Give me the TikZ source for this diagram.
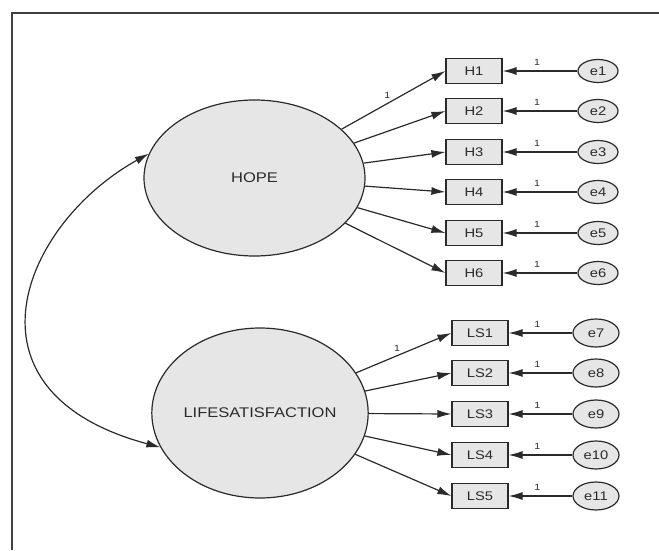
\documentclass[tikz,border=0pt]{standalone}
\usepackage{fontspec}
\setmainfont{Liberation Sans}[FakeStretch=1.18]
\usetikzlibrary{arrows.meta,shapes.geometric}
\definecolor{fillg}{HTML}{E6E6E6}
\definecolor{lineg}{HTML}{2A2A2A}
\tikzset{
  lat/.style={ellipse, draw=lineg, fill=fillg, line width=1.2pt, inner sep=0pt,
    font=\fontsize{14}{16}\selectfont, text=lineg},
  obs/.style={rectangle, draw=lineg, fill=fillg, line width=1.2pt, inner sep=0pt,
    minimum width=56pt, minimum height=25pt, font=\fontsize{12.5}{14}\selectfont, text=lineg},
  errup/.style={ellipse, draw=lineg, fill=fillg, line width=1.2pt, inner sep=0pt,
    minimum width=40pt, minimum height=23pt, font=\fontsize{12.5}{14}\selectfont, text=lineg},
  errlo/.style={errup, minimum width=46pt, minimum height=28pt},
  arr/.style={-{Latex[length=14pt,width=8pt]}, line width=1.2pt, draw=lineg},
  cov/.style={{Latex[length=14pt,width=8pt]}-{Latex[length=14pt,width=8pt]}, line width=1.2pt, draw=lineg},
  one/.style={font=\fontsize{9}{10}\selectfont, inner sep=1pt, text=lineg},
  frameline/.style={line width=1.4pt, draw=black!75}
}
\begin{document}
\begin{tikzpicture}[x=1pt,y=1pt]
\useasboundingbox (0,0) rectangle (659,550);
\draw[frameline] (12,0) -- (12,537) -- (659,537);

\node[lat, minimum width=221pt, minimum height=156pt] (hope) at (254.5,372) {HOPE};
\node[lat, minimum width=216pt, minimum height=170pt] (ls) at (260,137) {LIFESATISFACTION};

\foreach \i/\y in {1/479,2/439,3/398,4/358,5/317,6/277}{
  \node[obs] (h\i) at (474,\y) {H\i};
  \node[errup] (e\i) at (598,\y) {e\i};
}
\foreach \i/\y/\e in {1/217/7,2/177/8,3/136/9,4/95/10,5/54/11}{
  \node[obs] (ls\i) at (480,\y) {LS\i};
  \node[errlo] (e\e) at (596,\y) {e\e};
}

\draw[arr] (hope) -- node[one, above, pos=0.44, yshift=3pt] {1} (h1.west);
\foreach \i in {2,...,6}{ \draw[arr] (hope) -- (h\i.west); }
\draw[arr] (ls) -- node[one, above, pos=0.43, yshift=3pt] {1} (ls1.west);
\foreach \i in {2,...,5}{ \draw[arr] (ls) -- (ls\i.west); }

\foreach \i in {1,...,6}{
  \draw[arr] (e\i) -- node[one, above, pos=0.54, yshift=3.5pt] {1} (h\i);
}
\foreach \i/\e in {1/7,2/8,3/9,4/10,5/11}{
  \draw[arr] (e\e) -- node[one, above, pos=0.55, yshift=3.5pt] {1} (ls\i);
}

\draw[cov] (hope.167) .. controls +(209:145) and +(165:215) .. (ls.199);
\end{tikzpicture}
\end{document}
